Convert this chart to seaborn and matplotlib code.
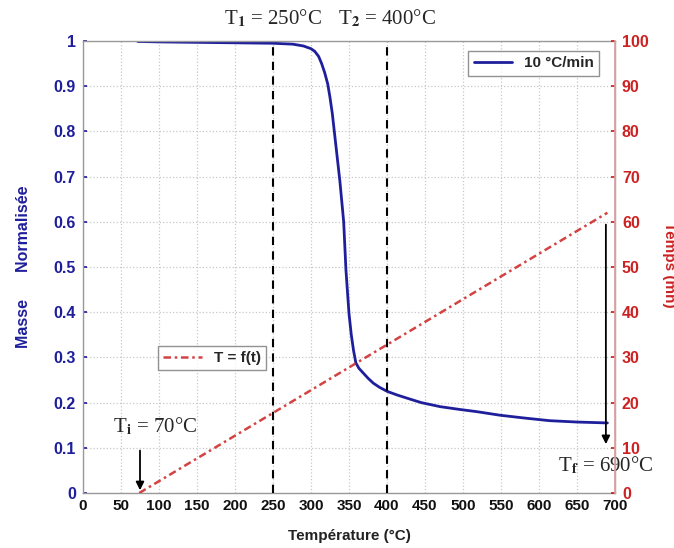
import numpy as np
import pandas as pd
import matplotlib
matplotlib.use("Agg")
import matplotlib.pyplot as plt
import seaborn as sns

# mass loss curve (10 °C/min)
temp_mass = [72, 100, 150, 200, 250, 276, 290, 300, 305, 310, 314, 318, 322, 325, 328,
             333, 338, 343, 346, 350, 353, 356, 359, 363, 369, 375, 382, 390, 400,
             413, 426, 445, 470, 495, 518, 549, 580, 614, 650, 690]
mass = [0.999, 0.998, 0.997, 0.996, 0.995, 0.993, 0.989, 0.983, 0.977, 0.966, 0.95,
        0.93, 0.905, 0.875, 0.84, 0.765, 0.69, 0.60, 0.493, 0.397, 0.35, 0.315, 0.288,
        0.276, 0.265, 0.254, 0.243, 0.234, 0.225, 0.217, 0.21, 0.2, 0.191, 0.185,
        0.18, 0.172, 0.166, 0.16, 0.157, 0.155]

# T = f(t)
temp_time = [74, 690]
time_min = [0, 62]

x_ticks = list(range(0, 701, 50))
left_ticks = [round(v * 0.1, 1) for v in range(11)]
right_ticks = list(range(0, 101, 10))

BLUE = "#1f1f9c"
RED = "#cc2222"

sns.set_theme(style="whitegrid")
plt.rcParams["font.family"] = ["Liberation Sans", "DejaVu Sans"]
plt.rcParams["mathtext.fontset"] = "stix"

fig = plt.figure(figsize=(6.74, 5.48), dpi=100)
ax = fig.add_axes([83 / 674, 1 - 493 / 548, 532 / 674, 452 / 548])
ax.set_facecolor("white")

df_mass = pd.DataFrame({"T": temp_mass, "m": mass})
sns.lineplot(data=df_mass, x="T", y="m", ax=ax, color=BLUE, linewidth=2,
             label="10 °C/min", sort=False)

ax.set_xlim(0, 700)
ax.set_ylim(0, 1)
ax.set_xticks(x_ticks)
ax.set_yticks(left_ticks)
ax.set_yticklabels(["0"] + [f"{v:g}" for v in left_ticks[1:-1]] + ["1"])
ax.grid(True, color="#c8c8c8", linestyle=":", linewidth=0.9)
for s in ax.spines.values():
    s.set_color("#999999")
    s.set_linewidth(1)
ax.tick_params(axis="x", colors="#111111", labelsize=11, direction="in", length=3, pad=4)
ax.tick_params(axis="y", colors=BLUE, labelsize=11.5, direction="in", length=3, pad=5)
for lab in ax.get_xticklabels() + ax.get_yticklabels():
    lab.set_fontweight("bold")
ax.set_xlabel("Température (°C)", fontsize=11, fontweight="bold", color="#222222", labelpad=12)
ax.set_ylabel("Masse      Normalisée", fontsize=11.5, fontweight="bold", color=BLUE, labelpad=16)

leg1 = ax.legend(loc="upper right", bbox_to_anchor=(0.985, 0.995), fontsize=11,
                 frameon=True, fancybox=False, edgecolor="#777777", handlelength=2.5,
                 borderpad=0.35)
for t in leg1.get_texts():
    t.set_fontweight("bold")
leg1.get_frame().set_linewidth(1)

# vertical markers
for xv in [250, 400]:
    ax.axvline(xv, color="black", linestyle=(0, (4, 3)), linewidth=1.5, zorder=3)

# right axis: time
ax2 = ax.twinx()
df_time = pd.DataFrame({"T": temp_time, "t": time_min})
sns.lineplot(data=df_time, x="T", y="t", ax=ax2, color=RED, linewidth=1.8,
             linestyle=(0, (3, 1.5, 1, 1.5)), label="T = f(t)", alpha=0.85)
ax2.set_ylim(0, 100)
ax2.set_yticks(right_ticks)
ax2.grid(False)
ax2.tick_params(axis="y", colors=RED, labelsize=11.5, direction="in", length=3, pad=5)
for lab in ax2.get_yticklabels():
    lab.set_fontweight("bold")
ax2.spines["right"].set_color("#e0a0a0")
for k in ["left", "top", "bottom"]:
    ax2.spines[k].set_visible(False)
ax2.set_ylabel("")
ax2.set_xlabel("")
leg2 = ax2.legend(loc="center", bbox_to_anchor=(128 / 532 + 0.002, (493 - 358) / 452),
                  fontsize=11, frameon=True, fancybox=False, edgecolor="#777777",
                  handlelength=2.5, borderpad=0.35)
for t in leg2.get_texts():
    t.set_fontweight("bold")
leg2.get_frame().set_linewidth(1)

# annotations
serif = ["Liberation Serif", "DejaVu Serif"]
ax.text(250, 1.05, r"T$_\mathbf{1}$ = 250°C", ha="center", va="center", fontsize=15,
        family=serif, clip_on=False)
ax.text(400, 1.05, r"T$_\mathbf{2}$ = 400°C", ha="center", va="center", fontsize=15,
        family=serif, clip_on=False)
ax.text(39, 0.148, r"T$_\mathbf{i}$ = 70°C", ha="left", va="center", fontsize=15,
        family=serif)
ax.text(688, 0.062, r"T$_\mathbf{f}$ = 690°C", ha="center", va="center", fontsize=15,
        family=serif, clip_on=False, zorder=5)
ax.annotate("", xy=(75, 0.0), xytext=(75, 0.1),
            arrowprops=dict(arrowstyle="-|>", color="black", lw=1.3, mutation_scale=12))
ax.annotate("", xy=(688, 0.102), xytext=(688, 0.6),
            arrowprops=dict(arrowstyle="-|>", color="black", lw=1.3, mutation_scale=12))

fig.text(0.992, (548 - 265) / 548, "Temps (mn)", rotation=270, ha="center", va="center",
         fontsize=11, fontweight="bold", color=RED)

fig.savefig("out.png", dpi=100)
